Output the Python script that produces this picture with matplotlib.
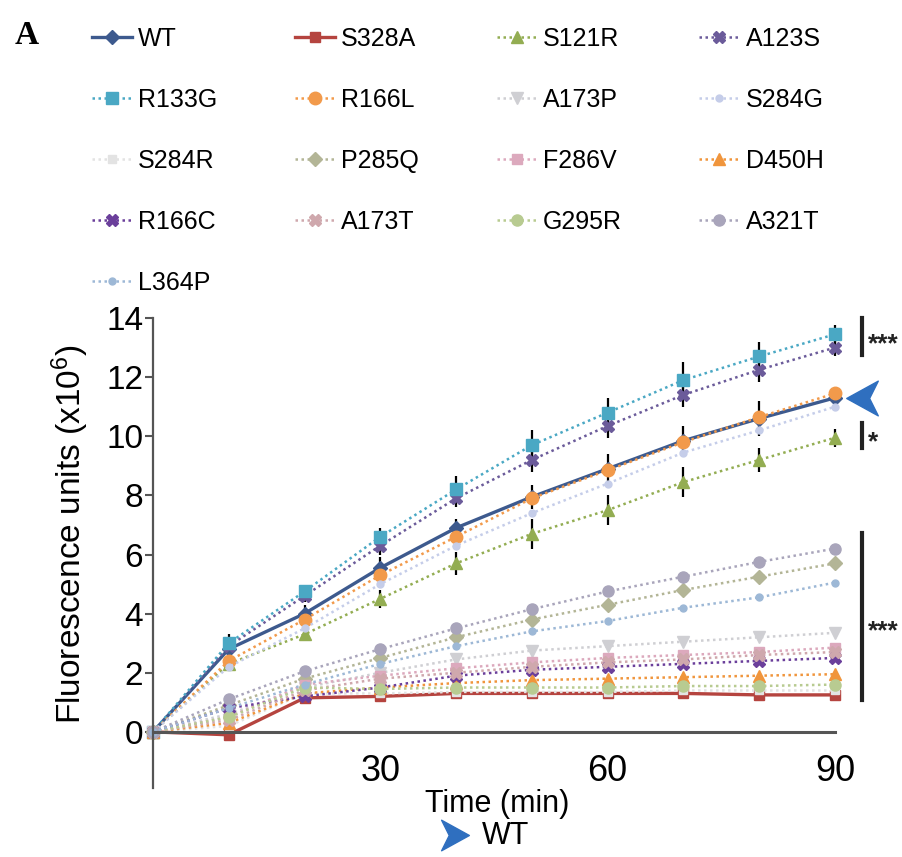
import matplotlib
matplotlib.use("Agg")
import matplotlib.pyplot as plt
import matplotlib.transforms as mtransforms
from matplotlib.lines import Line2D
from matplotlib.path import Path

plt.rcParams["font.family"] = ["Liberation Sans", "DejaVu Sans"]
plt.rcParams["mathtext.fontset"] = "custom"
plt.rcParams["mathtext.rm"] = "Liberation Sans"
plt.rcParams["mathtext.it"] = "Liberation Sans:italic"
plt.rcParams["mathtext.bf"] = "Liberation Sans:bold"

time_min = [0, 10, 20, 30, 40, 50, 60, 70, 80, 90]

wt = [0, 2.8, 4.0, 5.55, 6.9, 7.95, 8.9, 9.85, 10.6, 11.3]
s328a = [0, -0.1, 1.15, 1.2, 1.3, 1.3, 1.3, 1.3, 1.25, 1.25]
s121r = [0, 2.3, 3.3, 4.5, 5.7, 6.7, 7.5, 8.45, 9.2, 9.95]
a123s = [0, 2.9, 4.6, 6.3, 7.9, 9.2, 10.35, 11.4, 12.25, 13.0]
r133g = [0, 3.0, 4.75, 6.6, 8.2, 9.7, 10.8, 11.9, 12.7, 13.45]
r166l = [0, 2.4, 3.8, 5.3, 6.6, 7.9, 8.85, 9.8, 10.65, 11.45]
a173p = [0, 0.6, 1.5, 2.0, 2.45, 2.75, 2.9, 3.05, 3.2, 3.35]
s284g = [0, 2.2, 3.5, 5.0, 6.3, 7.4, 8.4, 9.45, 10.2, 11.0]
s284r = [0, 0.2, 1.3, 1.3, 1.35, 1.35, 1.35, 1.4, 1.4, 1.4]
p285q = [0, 0.9, 1.8, 2.5, 3.2, 3.8, 4.3, 4.8, 5.25, 5.7]
f286v = [0, 0.5, 1.6, 1.9, 2.15, 2.35, 2.5, 2.6, 2.7, 2.85]
d450h = [0, 0.3, 1.3, 1.5, 1.65, 1.75, 1.8, 1.85, 1.9, 1.95]
r166c = [0, 0.8, 1.2, 1.5, 1.9, 2.1, 2.2, 2.3, 2.4, 2.5]
a173t = [0, 0.4, 1.4, 1.8, 2.0, 2.2, 2.35, 2.45, 2.6, 2.7]
g295r = [0, 0.5, 1.5, 1.45, 1.5, 1.5, 1.5, 1.55, 1.55, 1.6]
a321t = [0, 1.1, 2.05, 2.8, 3.5, 4.15, 4.75, 5.25, 5.75, 6.2]
l364p = [0, 0.8, 1.6, 2.3, 2.9, 3.4, 3.75, 4.2, 4.55, 5.05]

# error bars (SEM) for the upper group
wt_err = [0, 0.5, 0.3, 0.35, 0.3, 0.4, 0.5, 0.5, 0.6, 0.3]
r133g_err = [0, 0.2, 0.2, 0.3, 0.45, 0.5, 0.5, 0.6, 0.5, 0.3]
a123s_err = [0, 0.2, 0.2, 0.3, 0.3, 0.4, 0.4, 0.4, 0.4, 0.3]
s121r_err = [0, 0.2, 0.2, 0.3, 0.4, 0.5, 0.5, 0.5, 0.4, 0.3]

# name, values, color, marker, markersize, solid line?
series = [
    ("WT", wt, "#3d5a8e", "D", 7, True),
    ("S328A", s328a, "#b5443f", "s", 7, True),
    ("S121R", s121r, "#93ad52", "^", 9, False),
    ("A123S", a123s, "#6b5b9a", "X", 9, False),
    ("R133G", r133g, "#4aa8c4", "s", 8, False),
    ("R166L", r166l, "#f29a4b", "o", 9, False),
    ("A173P", a173p, "#cfcfd3", "v", 8, False),
    ("S284G", s284g, "#c5cde9", "o", 5, False),
    ("S284R", s284r, "#e3e3e3", "s", 6, False),
    ("P285Q", p285q, "#b3b596", "D", 7, False),
    ("F286V", f286v, "#dca9bd", "s", 7, False),
    ("D450H", d450h, "#f0953c", "^", 9, False),
    ("R166C", r166c, "#6b3f9b", "X", 9, False),
    ("A173T", a173t, "#cfa8ad", "X", 8, False),
    ("G295R", g295r, "#b8cb91", "o", 8, False),
    ("A321T", a321t, "#a9a5bb", "o", 8, False),
    ("L364P", l364p, "#9db8d6", "o", 5, False),
]
errs = [(wt, wt_err), (r133g, r133g_err), (a123s, a123s_err), (s121r, s121r_err)]

fig = plt.figure(figsize=(9.02, 8.57), dpi=100, facecolor="white")
ax = fig.add_axes([0.1696, 0.0805, 0.7561, 0.5484])

for vals, err in errs:
    ax.errorbar(time_min, vals, yerr=err, fmt="none", ecolor="black",
                elinewidth=1.6, capsize=0, zorder=1.5, clip_on=False)

handles = []
for name, vals, color, marker, ms, solid in series:
    (h,) = ax.plot(
        time_min, vals, color=color, marker=marker, markersize=ms,
        markeredgecolor=color, linewidth=2.4 if solid else 1.8,
        linestyle="-" if solid else (0, (1, 1.4)), label=name, clip_on=False,
    )
    handles.append(h)

ax.set_xlim(0, 90)
ax.set_ylim(-1.9, 14)
ax.spines["top"].set_visible(False)
ax.spines["right"].set_visible(False)
ax.spines["bottom"].set_position(("data", 0))
for sp in ("left", "bottom"):
    ax.spines[sp].set_color("#555555")
ax.spines["left"].set_linewidth(1.6)
ax.spines["bottom"].set_linewidth(2.2)

ax.set_yticks(range(0, 15, 2))
ax.set_xticks([30, 60, 90])
ax.tick_params(axis="y", labelsize=24, length=6, width=1.5, pad=1, color="#555555")
ax.tick_params(axis="x", labelsize=26, length=0, pad=16)

ax.set_ylabel("Fluorescence units (x10$^6$)", fontsize=24, va="center")
ax.yaxis.set_label_coords(-0.122, 0.54)
ax.set_xlabel("Time (min)", fontsize=22, va="center")
ax.xaxis.set_label_coords(0.504, -0.035)

# significance bars
trans = mtransforms.blended_transform_factory(ax.transAxes, ax.transData)
bars = [((14.0, 12.75), "***", 13.1), ((10.45, 9.6), "*", 9.8), ((6.73, 1.08), "***", 3.4)]
for (y0, y1), stars, ys in bars:
    ax.plot([1.04, 1.04], [y0, y1], color="#222222", lw=3, transform=trans, clip_on=False)
    ax.text(1.048, ys, stars, transform=trans, fontsize=19, fontweight="bold",
            ha="left", va="center", color="#222222")

# blue arrowhead marking WT
arrow_left = Path([(-1, 0), (1, 1.1), (0.45, 0), (1, -1.1), (-1, 0)],
                  [Path.MOVETO, Path.LINETO, Path.LINETO, Path.LINETO, Path.CLOSEPOLY])
ax.plot([93.5], [wt[-1]], marker=arrow_left, markersize=25, color="#2f6fbf",
        linestyle="none", clip_on=False)

arrow_right = Path([(1, 0), (-1, 1.1), (-0.45, 0), (-1, -1.1), (1, 0)],
                   [Path.MOVETO, Path.LINETO, Path.LINETO, Path.LINETO, Path.CLOSEPOLY])
fig.add_artist(Line2D([455 / 902], [1 - 835 / 857], marker=arrow_right, markersize=22,
                      color="#2f6fbf", linestyle="none", transform=fig.transFigure))
fig.text(482 / 902, 1 - 836 / 857, "WT", fontsize=22, va="center", ha="left")

fig.text(15 / 902, 1 - 35 / 857, "A", fontsize=24, fontweight="bold",
         family=["Liberation Serif", "DejaVu Serif"], va="center", ha="left")

# legend filled row by row (matplotlib fills columns)
ncol = 4
order = []
for c in range(ncol):
    order += list(range(c, len(handles), ncol))
fig.legend(
    [handles[i] for i in order], [handles[i].get_label() for i in order],
    loc="upper left", bbox_to_anchor=(92 / 902, 0.969), ncol=ncol, frameon=False,
    fontsize=18, borderpad=0, borderaxespad=0, handlelength=1.6,
    handletextpad=0.25, labelspacing=1.48, columnspacing=3.1,
)

fig.savefig("out.png", dpi=100, facecolor="white")
